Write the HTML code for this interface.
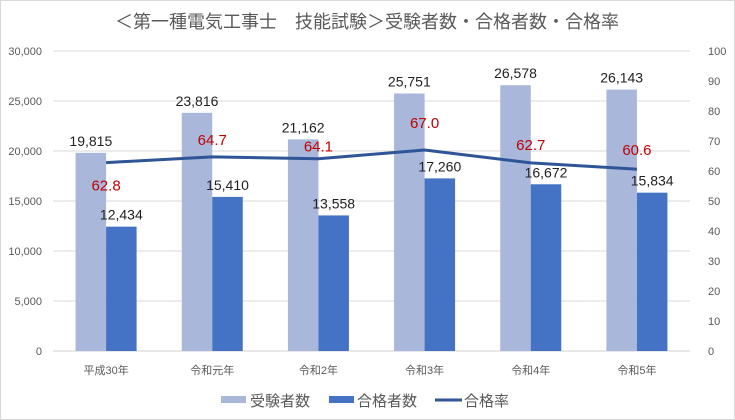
<!DOCTYPE html>
<html><head><meta charset="utf-8"><style>
body{margin:0;background:#fff;}
svg{display:block;font-family:"Liberation Sans","Noto Sans CJK JP",sans-serif;}
</style></head><body>
<svg id="chart" width="735" height="420" viewBox="0 0 735 420">
<rect x="0.5" y="0.5" width="734" height="419" fill="#fff" stroke="#d9d9d9"/>
<text x="367" y="28" text-anchor="middle" font-size="18" fill="#595959">＜第一種電気工事士　技能試験＞受験者数・合格者数・合格率</text>
<g id="grid"></g><g id="bars"></g><g id="line"></g><g id="labels"></g>
<g>
<rect x="221" y="396" width="25" height="7" fill="#a9b7db"/>
<text x="250" y="406" font-size="15" fill="#595959">受験者数</text>
<rect x="329" y="396" width="25" height="7" fill="#4472c4"/>
<text x="357" y="406" font-size="15" fill="#595959">合格者数</text>
<line x1="435" y1="400" x2="462" y2="400" stroke="#2f5597" stroke-width="3"/>
<text x="464" y="406" font-size="15" fill="#595959">合格率</text>
</g>
</svg>
<script>
const categories=["平成30年","令和元年","令和2年","令和3年","令和4年","令和5年"];
const examinees=[19815,23816,21162,25751,26578,26143];
const passers=[12434,15410,13558,17260,16672,15834];
const rates=[62.8,64.7,64.1,67.0,62.7,60.6];
const leftTicks=[0,5000,10000,15000,20000,25000,30000];
const rightTicks=[0,10,20,30,40,50,60,70,80,90,100];
const rateLabelDy=[28,-12,-7,-22,-13,-14];

const NS="http://www.w3.org/2000/svg";
const X0=53,X1=690,Y0=351,Y1=51;
const band=(X1-X0)/categories.length;
const xc=i=>X0+band*(i+0.5);
const yL=v=>Y0-(v/30000)*(Y0-Y1);
const yR=v=>Y0-(v/100)*(Y0-Y1);
function mk(tag,attrs,parent,txt){const e=document.createElementNS(NS,tag);for(const k in attrs)e.setAttribute(k,attrs[k]);if(txt!==undefined)e.textContent=txt;parent.appendChild(e);return e;}
const grid=document.getElementById('grid'),bars=document.getElementById('bars'),line=document.getElementById('line'),labels=document.getElementById('labels');
leftTicks.forEach(t=>{
  const g=mk('line',{x1:X0,x2:X1,y1:yL(t),y2:yL(t),stroke:t===0?'#d0d0d0':'#d9d9d9','stroke-width':1},grid);
  
  
  const l=mk('text',{x:42,y:yL(t)+4,'text-anchor':'end','font-size':11,fill:'#595959'},grid,t.toLocaleString('en-US'));
  
  
});
rightTicks.forEach(t=>{
  const l=mk('text',{x:708,y:yR(t)+4,'text-anchor':'start','font-size':11,fill:'#595959'},grid,String(t));
  
  
});
const bw=30.5;
categories.forEach((c,i)=>{
  const cx=xc(i);
  const b1=mk('rect',{x:cx-bw,y:yL(examinees[i]),width:bw,height:Y0-yL(examinees[i]),fill:'#a9b7db'},bars);
  
  
  const b2=mk('rect',{x:cx,y:yL(passers[i]),width:bw,height:Y0-yL(passers[i]),fill:'#4472c4'},bars);
  
  
  const cl=mk('text',{x:cx,y:374,'text-anchor':'middle','font-size':11,fill:'#595959'},labels,c);
  
  
  const l1=mk('text',{x:cx-bw/2,y:yL(examinees[i])-7,'text-anchor':'middle','font-size':14,fill:'#222'},labels,examinees[i].toLocaleString('en-US'));
  
  
  const l2=mk('text',{x:cx+bw/2,y:yL(passers[i])-7,'text-anchor':'middle','font-size':14,fill:'#222'},labels,passers[i].toLocaleString('en-US'));
  
  
  const l3=mk('text',{x:cx,y:yR(rates[i])+rateLabelDy[i],'text-anchor':'middle','font-size':15,fill:'#c00000'},labels,rates[i].toFixed(1));
  
  
});
const pts=rates.map((r,i)=>xc(i)+','+yR(r)).join(' ');
const pl=mk('polyline',{points:pts,fill:'none',stroke:'#2f5597','stroke-width':3,'stroke-linejoin':'round'},line);


</script>
</body></html>
